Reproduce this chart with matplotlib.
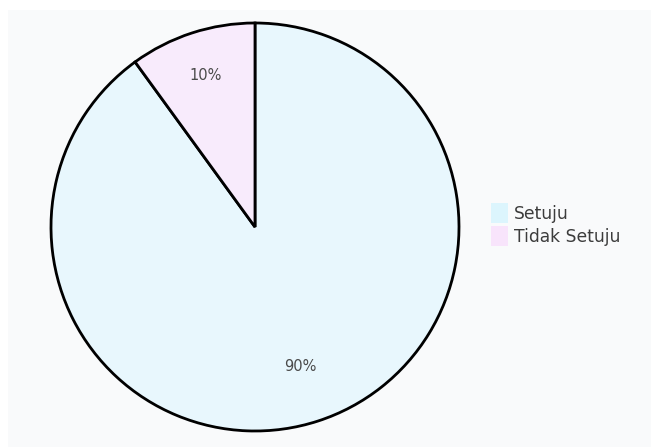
import numpy as np
import matplotlib.pyplot as plt
from matplotlib.patches import Rectangle

labels = ['Setuju', 'Tidak Setuju']
values = [90, 10]
colors = ['#e8f7fd', '#f8ebfc']
legend_colors = ['#dcf5fd', '#f8e4fb']

fig = plt.figure(figsize=(6.51, 4.47), dpi=100)
fig.patch.set_facecolor('white')
# light grey panel (image has thin white strip top/left)
fig.patches.append(Rectangle((8/651, 0), 1, 1 - 10/447, transform=fig.transFigure,
                             facecolor='#f9fafb', edgecolor='none', zorder=-5))

ax = fig.add_axes([51/651, 16/447, 408/651, 408/447])
ax.set_facecolor('none')
ax.set_zorder(2)
wedges, texts, autotexts = ax.pie(values, colors=colors, startangle=90, counterclock=False,
                                  autopct='%d%%', radius=1,
                                  wedgeprops=dict(edgecolor='black', linewidth=2),
                                  textprops=dict(color='#4a4a4a', fontsize=10.5, family='DejaVu Sans'))
# plotly-like label positions
dist = [0.72, 0.78]
for w, t, d in zip(wedges, autotexts, dist):
    ang = np.deg2rad((w.theta1 + w.theta2) / 2)
    t.set_position((d*np.cos(ang), d*np.sin(ang)))
ax.set_xlim(-1, 1)
ax.set_ylim(-1, 1)
ax.set_aspect('equal')
ax.axis('off')

# legend
for i, (lab, c) in enumerate(zip(labels, legend_colors)):
    top = 203 + 23*i
    fig.patches.append(Rectangle((491/651, 1 - (top + 20)/447), 17/651, 20/447,
                                 transform=fig.transFigure, facecolor=c, edgecolor='none'))
    fig.text(514/651, 1 - (top + 11)/447, lab, fontsize=12.3, color='#3c3c3c', va='center',
             family='DejaVu Sans')

fig.savefig('out.png', dpi=100)
